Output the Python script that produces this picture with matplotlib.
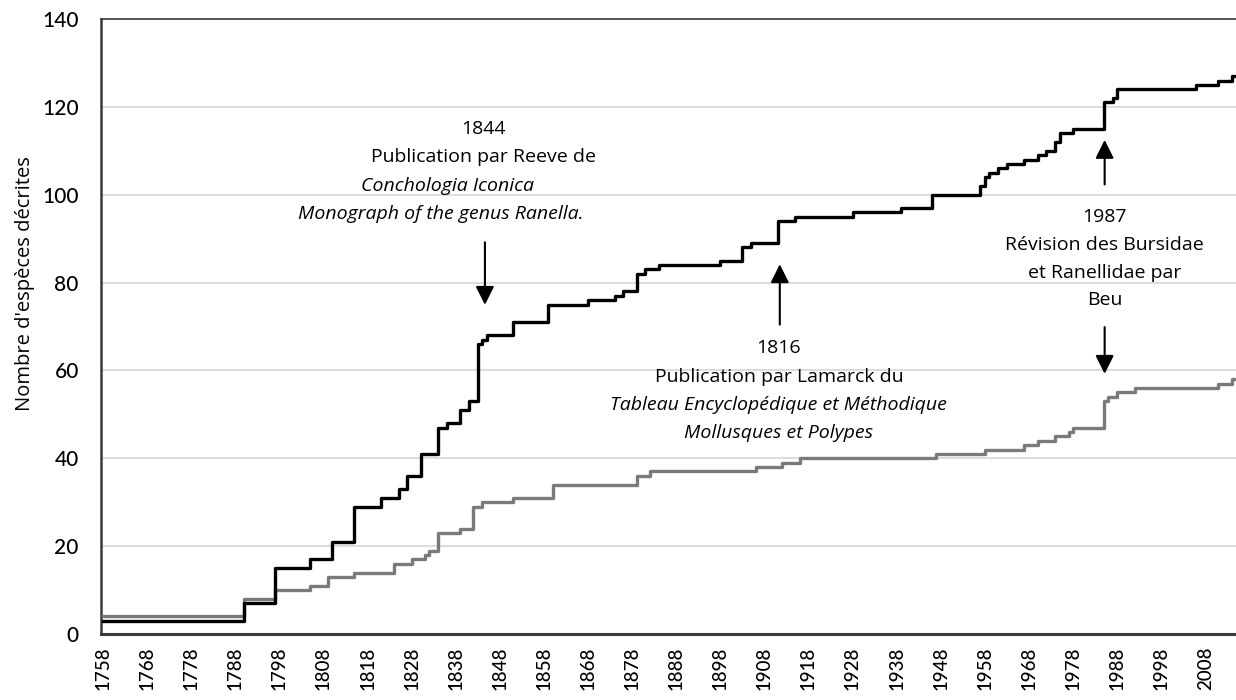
import matplotlib
matplotlib.use("Agg")
import matplotlib.pyplot as plt

# === Data (year of change -> cumulative count) ===
black_years = [1758, 1790, 1797, 1805, 1810, 1815, 1821, 1825, 1827, 1830, 1834,
               1836, 1839, 1841, 1843, 1844, 1845, 1851, 1859, 1868, 1874, 1876,
               1879, 1881, 1884, 1898, 1903, 1905, 1911, 1915, 1928, 1939, 1946,
               1957, 1958, 1959, 1961, 1963, 1967, 1970, 1972, 1974, 1975, 1978,
               1985, 1987, 1988, 2006, 2011, 2014]
black_counts = [3, 7, 15, 17, 21, 29, 31, 33, 36, 41, 47,
                48, 51, 53, 66, 67, 68, 71, 75, 76, 77, 78,
                82, 83, 84, 85, 88, 89, 94, 95, 96, 97, 100,
                102, 104, 105, 106, 107, 108, 109, 110, 112, 114, 115,
                121, 122, 124, 125, 126, 127]

gray_years = [1758, 1790, 1797, 1805, 1809, 1815, 1824, 1828, 1831, 1832, 1834,
              1839, 1842, 1844, 1851, 1860, 1879, 1882, 1906, 1912, 1916, 1947,
              1958, 1967, 1970, 1974, 1977, 1978, 1985, 1986, 1988, 1992, 2011,
              2014]
gray_counts = [4, 8, 10, 11, 13, 14, 16, 17, 18, 19, 23,
               24, 29, 30, 31, 34, 36, 37, 38, 39, 40, 41,
               42, 43, 44, 45, 46, 47, 53, 54, 55, 56, 57,
               58]

x_ticks = list(range(1758, 2009, 10))
y_ticks = [0, 20, 40, 60, 80, 100, 120, 140]
end_year = 2016

# === Figure ===
fig = plt.figure(figsize=(12.36, 7.0), dpi=100)
ax = fig.add_axes([101 / 1236, 66 / 700, 1 - 101 / 1236, 615 / 700])

ax.step(gray_years + [end_year], gray_counts + [gray_counts[-1]], where="post",
        color="#7a7a7a", linewidth=2.4, zorder=3)
ax.step(black_years + [end_year], black_counts + [black_counts[-1]], where="post",
        color="black", linewidth=2.4, zorder=4)

ax.set_xlim(1757.5, 2015)
ax.set_ylim(0, 140)
ax.set_yticks(y_ticks)
ax.set_xticks(x_ticks)
ax.set_xticklabels([str(y) for y in x_ticks], rotation=90, fontsize=13.5,
                   family="Lato", fontweight="medium")
ax.set_yticklabels([str(v) for v in y_ticks], fontsize=15, family="Lato",
                   fontweight="medium")
ax.tick_params(axis="y", length=0, pad=16)
ax.tick_params(axis="x", length=0, pad=9)
ax.grid(axis="y", color="#d9d9d9", linewidth=1.3)
ax.set_axisbelow(True)

for side in ["left", "bottom", "top"]:
    ax.spines[side].set_color("#3a3a3a")
ax.spines["left"].set_linewidth(1.8)
ax.spines["bottom"].set_linewidth(2.2)
ax.spines["top"].set_linewidth(1.2)
ax.spines["right"].set_visible(False)

ax.set_ylabel("Nombre d'espèces décrites", fontsize=14.5, family="Open Sans")
ax.yaxis.set_label_coords(-0.058, 0.57)

# === Annotations ===
fs = 14
fam = "Open Sans"
arrow = dict(arrowstyle="-|>", color="black", lw=1.5, mutation_scale=28)


def block(xs, ys, lines):
    for x, y, (txt, style) in zip(xs, ys, lines):
        ax.text(x, y, txt, ha="center", va="center", fontsize=fs, family=fam,
                style=style)


# 1844 - Reeve
block([1844.2, 1844.2, 1836.0, 1834.5], [114.9, 108.5, 101.9, 95.5],
      [("1844", "normal"), ("Publication par Reeve de", "normal"),
       ("Conchologia Iconica", "italic"),
       ("Monograph of the genus Ranella.", "italic")])
ax.annotate("", xy=(1844.6, 74.3), xytext=(1844.6, 89.8), arrowprops=arrow)

# 1816 - Lamarck
block([1911.3] * 4, [65.2, 58.6, 52.2, 45.8],
      [("1816", "normal"), ("Publication par Lamarck du", "normal"),
       ("Tableau Encyclopédique et Méthodique", "italic"),
       ("Mollusques et Polypes", "italic")])
ax.annotate("", xy=(1911.5, 84.8), xytext=(1911.5, 69.8), arrowprops=arrow)

# 1987 - Beu
block([1985.2] * 4, [95.0, 88.6, 82.2, 76.1],
      [("1987", "normal"), ("Révision des Bursidae", "normal"),
       ("et Ranellidae par", "normal"), ("Beu", "normal")])
ax.annotate("", xy=(1985.2, 113.1), xytext=(1985.2, 101.7), arrowprops=arrow)
ax.annotate("", xy=(1985.2, 58.6), xytext=(1985.2, 70.5), arrowprops=arrow)

plt.savefig("out.png", dpi=100)
